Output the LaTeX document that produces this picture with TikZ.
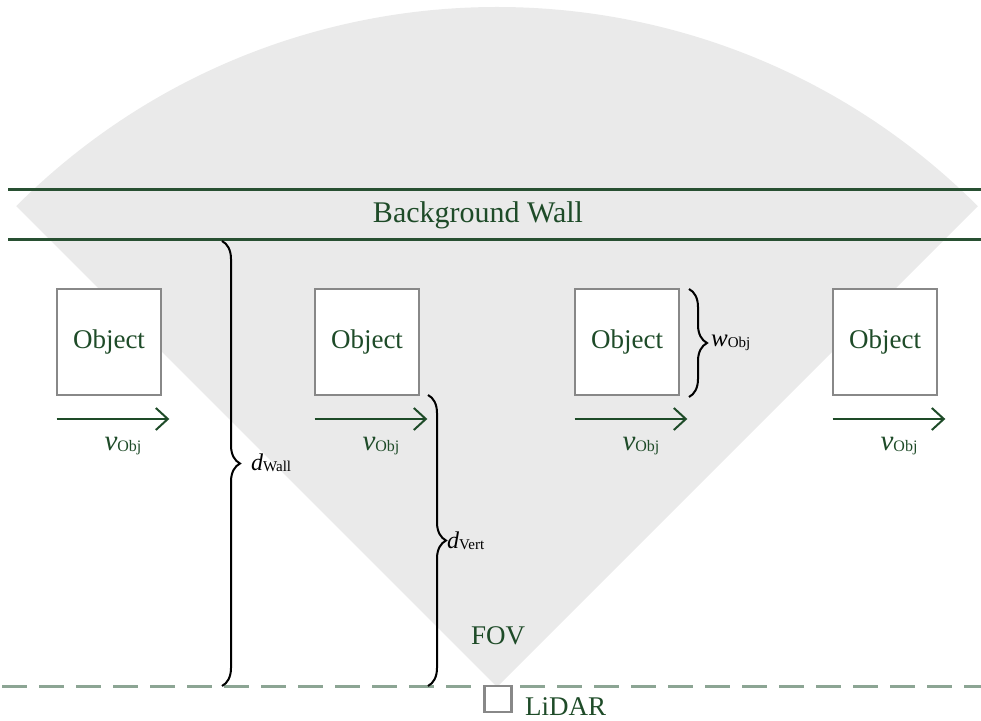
\documentclass[tikz,border=0pt]{standalone}
\usepackage{fontspec}
\setmainfont{Liberation Serif}
\usetikzlibrary{arrows.meta,decorations.pathreplacing}

\definecolor{fovgray}{RGB}{234,234,234}
\definecolor{wallgreen}{RGB}{40,80,50}
\definecolor{txtgreen}{RGB}{30,75,40}
\definecolor{boxgray}{RGB}{136,136,136}
\definecolor{dashgreen}{RGB}{140,165,148}

\newcommand{\vobj}{{\fontsize{29}{32}\selectfont\itshape v}\raisebox{-0.35ex}{\fontsize{16}{18}\selectfont Obj}}
\newcommand{\wobj}{{\fontsize{25}{28}\selectfont\itshape w}\raisebox{-0.3ex}{\fontsize{15}{17}\selectfont Obj}}
\newcommand{\dsub}[1]{{\fontsize{24}{26}\selectfont\itshape d}\raisebox{-0.3ex}{\fontsize{15}{17}\selectfont #1}}

\begin{document}
\begin{tikzpicture}[x=1pt,y=1pt,
  objbox/.style={draw=boxgray,line width=2.6pt,fill=white,minimum width=104pt,minimum height=106pt,
    inner sep=0pt,text=txtgreen,font=\fontsize{27}{30}\selectfont},
  wall/.style={wallgreen,line width=3pt},
  motion/.style={txtgreen,line width=2pt,-{Straight Barb[length=12pt,width=22pt,line width=2pt]}},
  measure/.style={black,line width=2pt,decorate,decoration={brace,amplitude=18pt}},
  greentext/.style={text=txtgreen,font=\fontsize{27}{30}\selectfont,inner sep=0pt},
  dimlabel/.style={anchor=west,inner sep=0pt,text=black}]
\useasboundingbox (0,0) rectangle (981,720);

% field of view sector of the sensor
\coordinate (apex) at (497,33);
\fill[fovgray] (apex) -- +(135:680) arc[start angle=135,end angle=45,radius=680] -- cycle;

% background wall
\coordinate (w1l) at (8,530);  \coordinate (w1r) at (981,530);
\coordinate (w2l) at (8,480);  \coordinate (w2r) at (981,480);
\draw[wall] (w1l) -- (w1r);
\draw[wall] (w2l) -- (w2r);
\node[greentext,font=\fontsize{30}{33}\selectfont] (walltext) at (478,505) {Background Wall};

% sensor baseline
\coordinate (bl) at (0,34); \coordinate (br) at (981,34);
\draw[dashgreen,line width=3pt,dash pattern=on 25pt off 12pt,dash phase=-2pt] (bl) -- (br);

% objects and their motion
\foreach \i/\cx in {1/109,2/367,3/627,4/885}{
  \node[objbox] (obj\i) at (\cx,378) {Object};
  \coordinate (m\i s) at ([xshift=1pt]obj\i.south west |- 0,301);
  \coordinate (m\i e) at ([xshift=7pt]obj\i.south east |- 0,301);
  \draw[motion] (m\i s) -- (m\i e);
  \node[inner sep=0pt,text=txtgreen] (v\i) at (\cx+14,274) {\vobj};
}

% sensor
\node[draw=boxgray,line width=2.6pt,fill=white,minimum width=27pt,minimum height=26pt,inner sep=0pt] (lidar) at (498,21) {};
\node[greentext,anchor=west] (lidartext) at (525,13) {LiDAR};
\node[greentext] (fovtext) at (498,84) {FOV};

% distances
\coordinate (dw1) at (222,479); \coordinate (dw2) at (222,34);
\draw[measure] (dw1) -- (dw2);
\node[dimlabel] (dwall) at (251,257) {\dsub{Wall}};

\coordinate (dv1) at (428,325); \coordinate (dv2) at (428,34);
\draw[measure] (dv1) -- (dv2);
\node[dimlabel] (dvert) at (447,179) {\dsub{Vert}};

\coordinate (wo1) at (689,431); \coordinate (wo2) at (689,323);
\draw[measure] (wo1) -- (wo2);
\node[dimlabel] (wobjl) at (711,377) {\wobj};
\end{tikzpicture}
\end{document}
